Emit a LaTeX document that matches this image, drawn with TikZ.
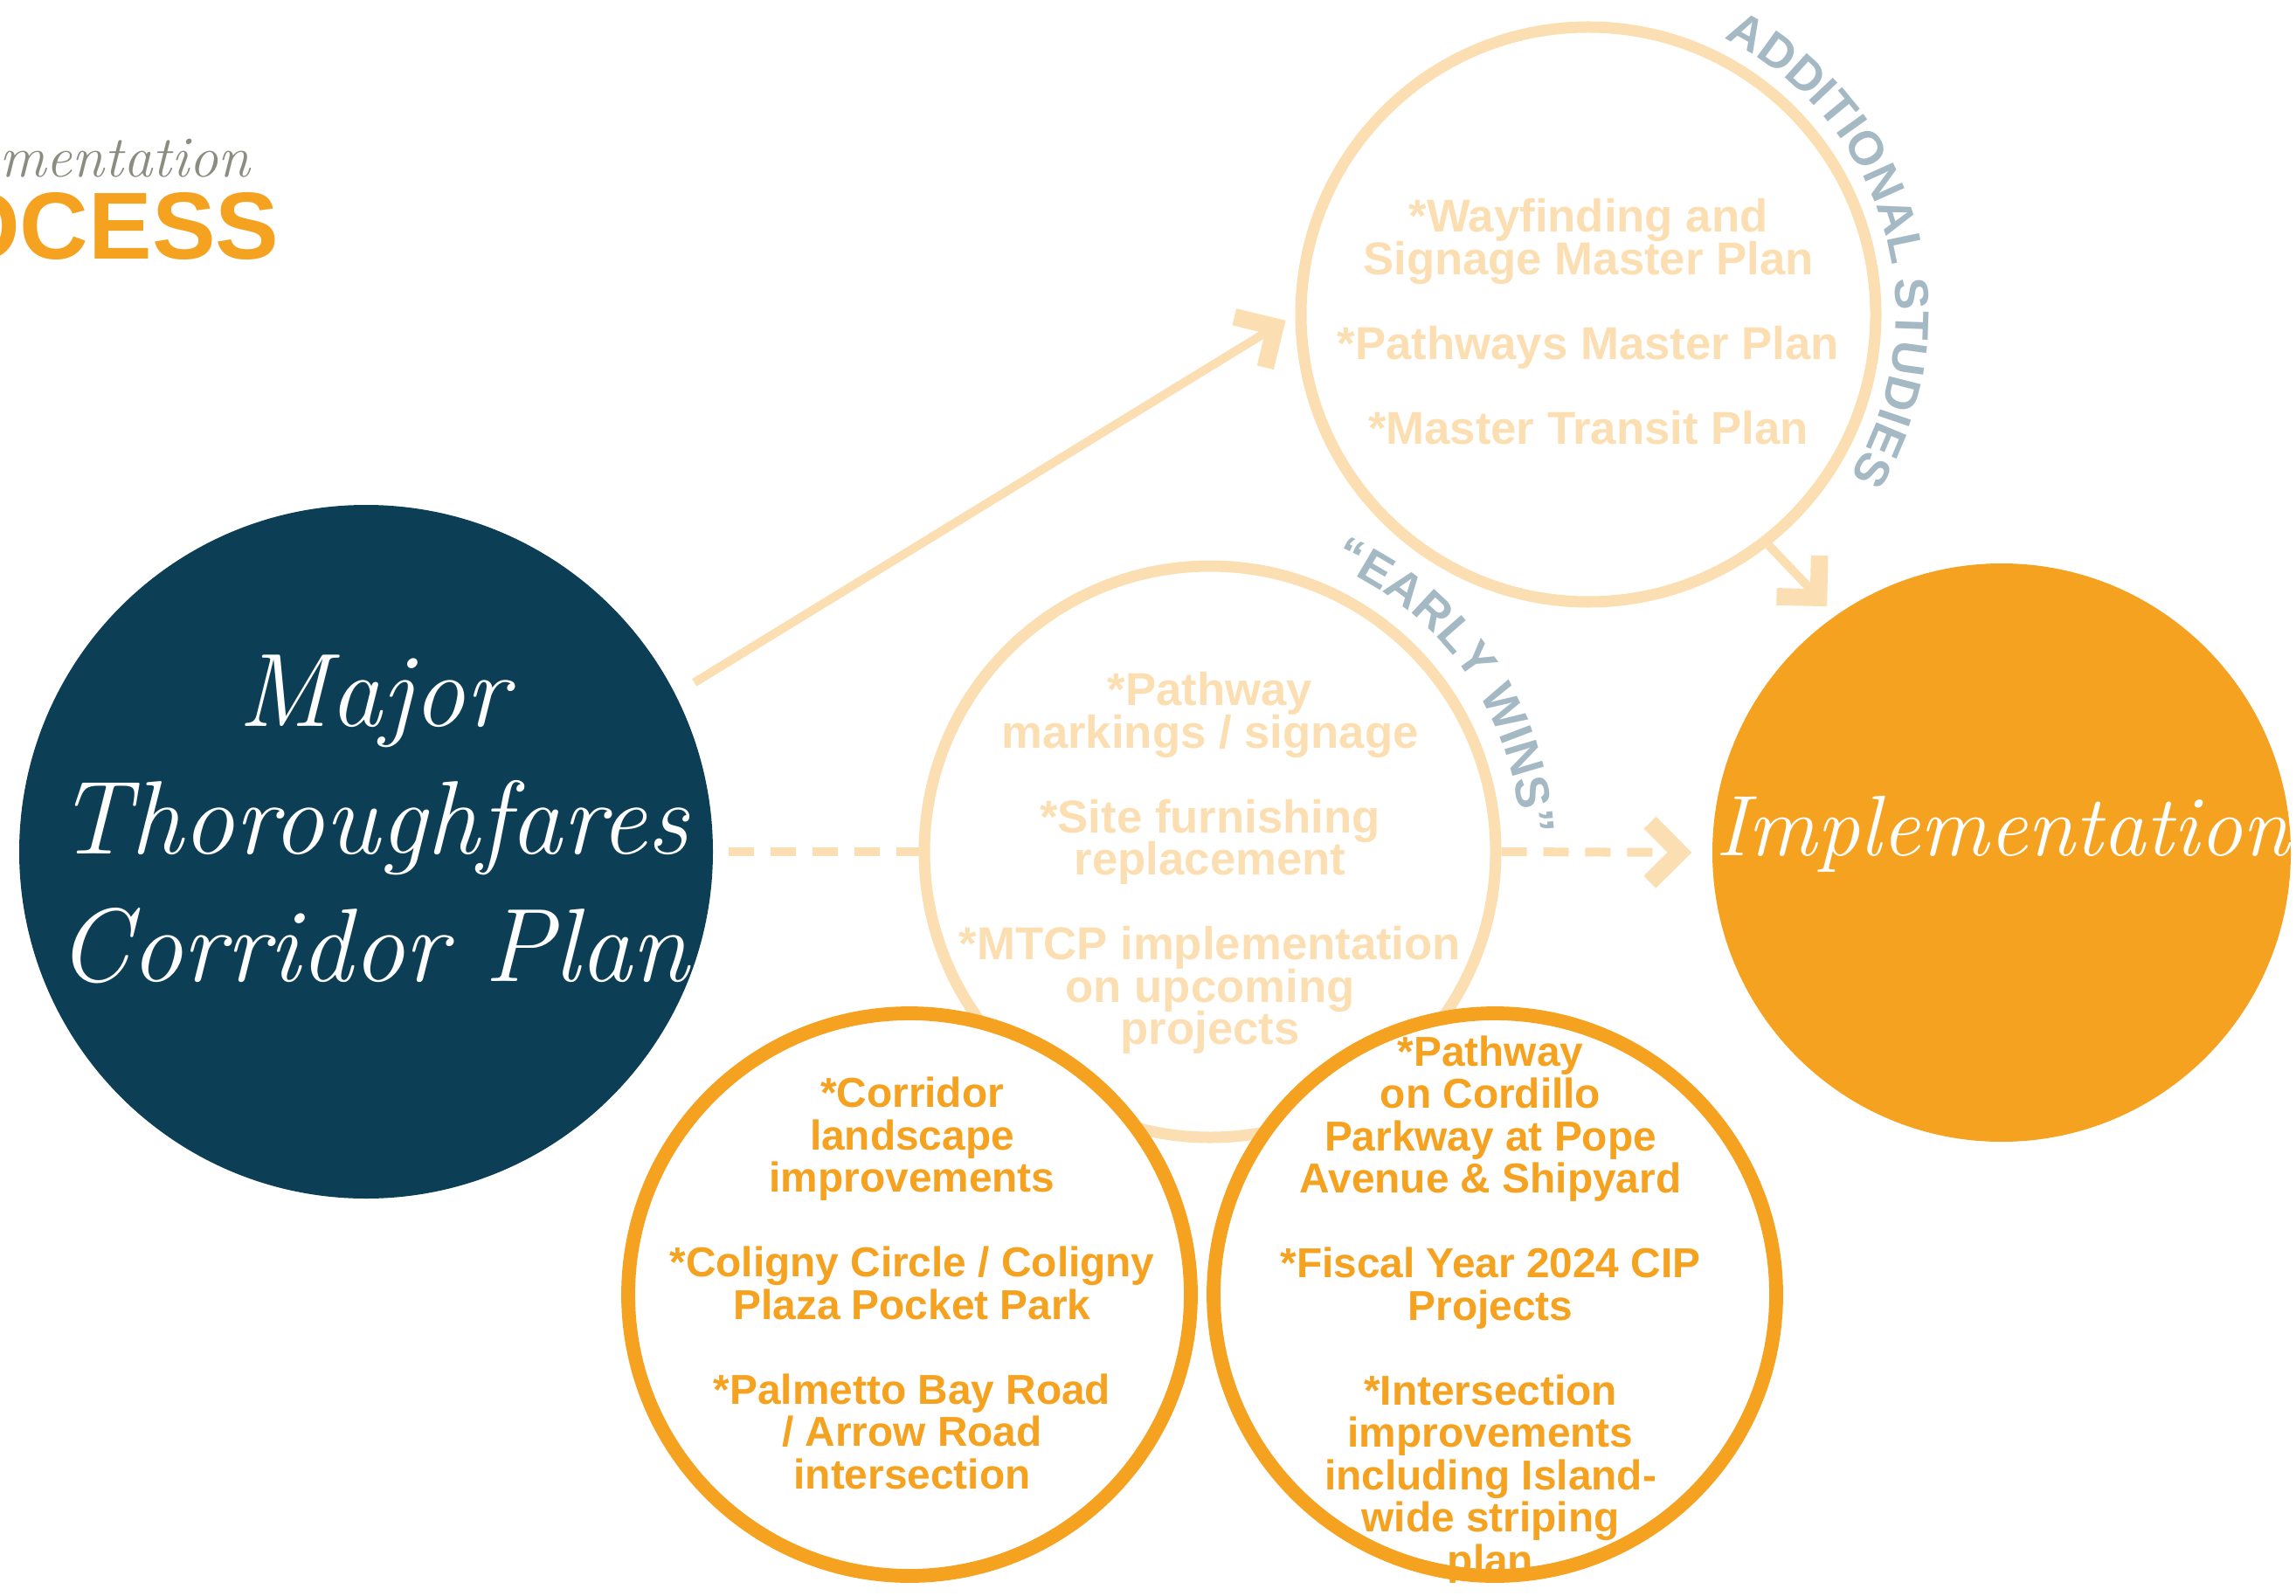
\documentclass[tikz,border=0pt]{standalone}
\usepackage{fontspec}
\usepackage{xcolor}
\usepackage{tikz}
\usetikzlibrary{positioning,arrows.meta,decorations.text}

\newfontfamily\labelfont{Liberation Sans}
\newcommand{\tightlines}{\setlength{\lineskiplimit}{-20pt}}

\definecolor{navy}{HTML}{0C3F56}
\definecolor{amber}{HTML}{F4A21F}
\definecolor{peach}{HTML}{FBDFB2}
\definecolor{slate}{HTML}{A4B9C3}
\definecolor{ash}{HTML}{8C8D80}

\begin{document}
\begin{tikzpicture}[
    disc/.style={circle, inner sep=0pt, minimum size=#1},
    fadering/.style={circle, draw=peach, line width=3.7pt, inner sep=0pt, minimum size=#1},
    goldring/.style={circle, draw=amber, fill=white, line width=4.5pt, inner sep=0pt, minimum size=#1},
    palelist/.style={text=peach, align=center, font=\labelfont\bfseries\fontsize{15}{13.8}\selectfont\tightlines},
    goldlist/.style={text=amber, align=center, font=\labelfont\bfseries\fontsize{13.6}{13.8}\selectfont\tightlines},
    handtext/.style={text=white, align=center, font=\rmfamily\itshape\fontsize{#1}{41.5}\selectfont},
    flowline/.style={draw=peach, line width=2.85pt},
    flowdash/.style={flowline, dash pattern=on 8.25pt off 5.4pt},
    chevron/.style={-{Straight Barb[length=3.4mm, width=6.8mm, line width=5.6pt]}}
]
    \useasboundingbox (0,0) rectangle (26.28,18.26);

    % Title, cut at the left edge
    \node[anchor=base east, text=ash, font=\rmfamily\itshape\fontsize{19}{19}\selectfont] (subtitle) at (2.99,16.23) {ementation};
    \node[anchor=base east, text=amber, font=\labelfont\bfseries\fontsize{31}{31}\selectfont] (title) at (3.32,15.29) {OCESS};

    % Pale rings
    \node[fadering=6.58cm] (studies) at (18.18,14.66) {};
    \node[fadering=6.54cm] (early) at (13.85,8.51) {};

    % Filled discs
    \node[disc=7.94cm, fill=navy] (corridor) at (4.19,8.51) {};
    \node[disc=6.62cm, fill=amber] (impl) at (22.91,8.50) {};

    % Connectors
    \draw[flowline, chevron, shorten <=0.25cm, shorten >=0.13cm] (corridor.27) -- (studies.west);
    \draw[flowdash, shorten <=0.17cm] (corridor.east) -- (early.west);
    \draw[flowdash, chevron, shorten >=0.23cm] (early.east) -- (impl.west);
    \draw[flowline, chevron, shorten >=0.14cm] (studies.-52) -- (impl.125);

    % Gold rings
    \node[goldring=6.44cm] (landscape) at (10.41,3.44) {};
    \node[goldring=6.44cm] (pathway) at (17.11,3.44) {};

    % Ring lists
    \node[palelist] (studies-list) at (18.18,14.58)
        {*Wayfinding and\\Signage Master Plan\\[13.8pt]*Pathways Master Plan\\[13.8pt]*Master Transit Plan};
    \node[palelist] (early-list) at (13.85,8.38)
        {*Pathway\\markings / signage\\[13.8pt]*Site furnishing\\replacement\\[13.8pt]*MTCP implementation\\on upcoming\\projects};
    \node[goldlist] (landscape-list) at (10.44,3.57)
        {*Corridor\\landscape\\improvements\\[13.8pt]*Coligny Circle / Coligny\\Plaza Pocket Park\\[13.8pt]*Palmetto Bay Road\\/ Arrow Road\\intersection};
    \node[goldlist] (pathway-list) at (17.06,3.27)
        {*Pathway\\on Cordillo\\Parkway at Pope\\Avenue \& Shipyard\\[13.8pt]*Fiscal Year 2024 CIP\\Projects\\[13.8pt]*Intersection\\improvements\\including Island-\\wide striping\\plan};

    % Curved labels
    \path[decorate, decoration={text along path, text align=center, text color=slate,
        text={|\labelfont\bfseries\fontsize{15.5}{15.5}\selectfont|ADDITIONAL STUDIES}}]
        ([shift={(70:3.52)}]studies.center) arc[start angle=70, end angle=-38, radius=3.52];
    \path[decorate, decoration={text along path, text align=center, text color=slate,
        text={|\labelfont\bfseries\fontsize{15.5}{15.5}\selectfont|“EARLY WINS”}}]
        ([shift={(75:3.57)}]early.center) arc[start angle=75, end angle=-5, radius=3.57];

    % Hand lettering
    \node[handtext=34] (corridor-title) at (4.27,8.88) {Major\\Thoroughfares\\Corridor Plan};
    \node[handtext=28] (impl-title) at (22.92,8.71) {Implementation};
\end{tikzpicture}
\end{document}
